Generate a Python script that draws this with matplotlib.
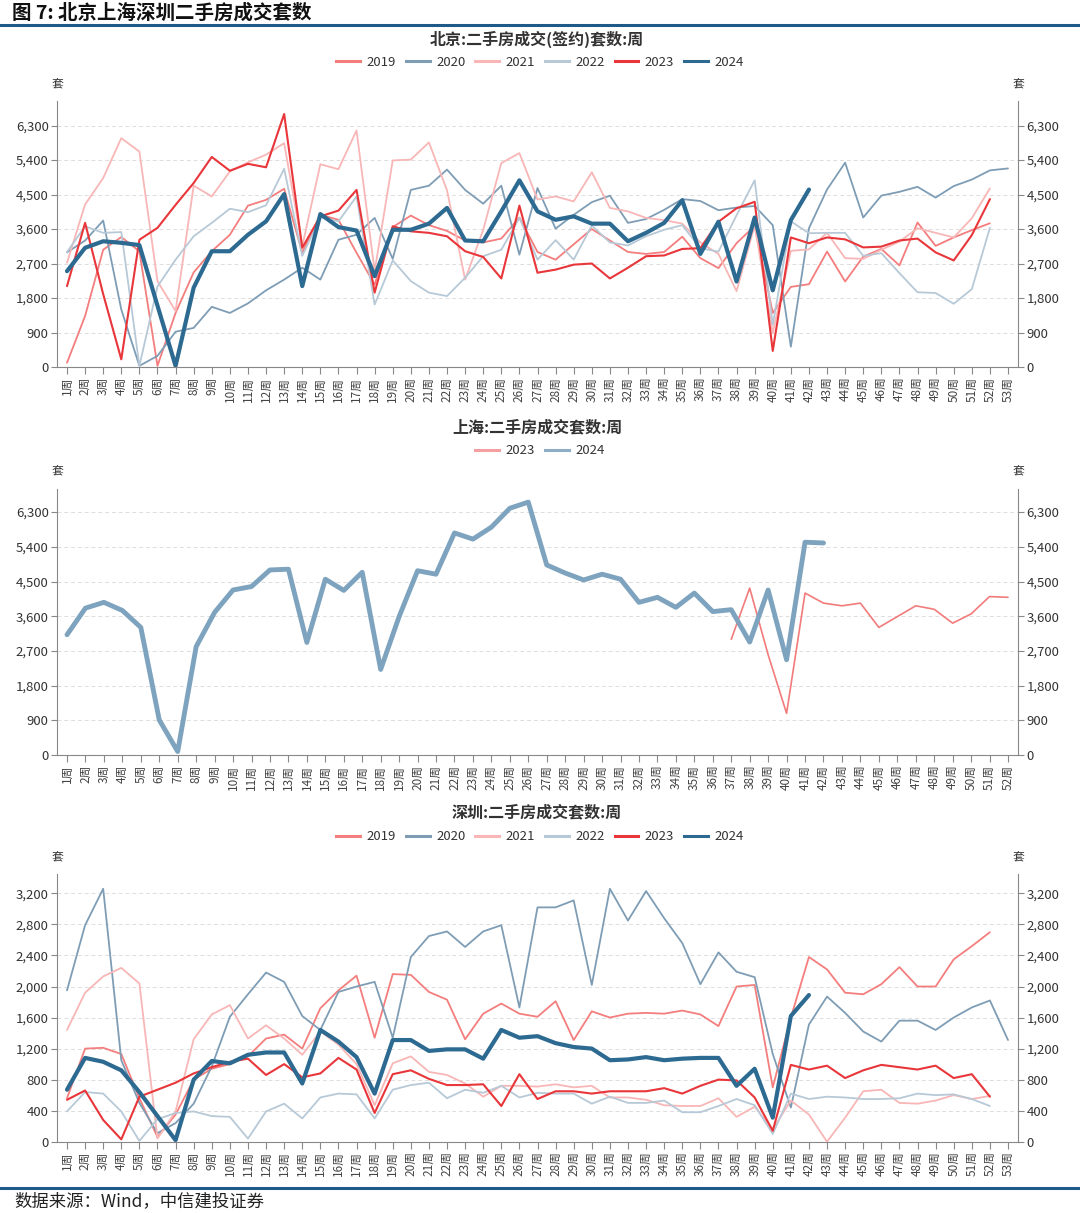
#!/usr/bin/env python3
# -*- coding: utf-8 -*-
"""
Weekly second-hand housing transactions in Beijing, Shanghai and Shenzhen.
"""

import matplotlib
matplotlib.use('Agg')
import matplotlib.pyplot as plt
from matplotlib.lines import Line2D
from matplotlib.ticker import FuncFormatter
import numpy as np

plt.rcParams['font.family'] = ['Noto Sans CJK SC', 'DejaVu Sans']

W, H = 1080, 1213

# ---- Beijing (signed contracts, units per week) ----
bj_2019 = [110, 1330, 3060, 3390, 3020, 30, 1410, 2470, 3020, 3450,
           4210, 4360, 4650, 2980, 3970, 3840, 2980, 2150, 3650, 3950,
           3700, 3550, 3300, 3250, 3350, 3900, 3000, 2800, 3200, 3600,
           3300, 3000, 2950, 3000, 3400, 2840, 2580, 3230, 3680, 1410,
           2090, 2160, 3010, 2230, 2880, 3080, 2650, 3770, 3160, 3380,
           3570, 3750]
bj_2020 = [2990, 3300, 3820, 1500, 30, 290, 920, 1020, 1570, 1410,
           1660, 2000, 2280, 2590, 2280, 3320, 3450, 3890, 2820, 4620,
           4730, 5150, 4620, 4260, 4730, 2930, 4670, 3610, 3970, 4300,
           4470, 3760, 3860, 4100, 4380, 4330, 4090, 4160, 4200, 3700,
           530, 3620, 4630, 5330, 3900, 4470, 4570, 4700, 4420, 4720,
           4890, 5130, 5180]
bj_2021 = [2720, 4240, 4930, 5970, 5620, 2240, 1460, 4730, 4450, 5100,
           5340, 5540, 5840, 3150, 5290, 5160, 6170, 2500, 5390, 5410,
           5860, 4610, 2280, 3580, 5320, 5580, 4370, 4450, 4320, 5080,
           4150, 4060, 3890, 3830, 3740, 3250, 2950, 1980, 3700, 890,
           3030, 3070, 3500, 2840, 2820, 3060, 3270, 3620, 3500, 3380,
           3880, 4660]
bj_2022 = [3000, 3670, 3500, 3520, 30, 2100, 2800, 3410, 3760, 4130,
           4040, 4220, 5170, 2900, 3900, 3800, 4450, 1630, 2780, 2240,
           1940, 1850, 2330, 2890, 3060, 3890, 2800, 3310, 2800, 3690,
           3250, 3170, 3410, 3580, 3700, 3100, 3010, 3960, 4870, 1100,
           3800, 3490, 3500, 3500, 2900, 2970, 2450, 1950, 1930, 1650,
           2030, 3630]
bj_2023 = [2110, 3760, 1900, 200, 3320, 3630, 4230, 4800, 5480, 5120,
           5300, 5210, 6600, 3110, 3930, 4080, 4620, 1940, 3670, 3540,
           3500, 3410, 3020, 2870, 2310, 4210, 2460, 2540, 2670, 2700,
           2310, 2590, 2890, 2910, 3080, 3100, 3790, 4140, 4310, 420,
           3380, 3230, 3380, 3330, 3120, 3140, 3300, 3350, 2990, 2780,
           3440, 4380]
bj_2024 = [2500, 3110, 3280, 3240, 3180, 1600, 30, 2070, 3020, 3020,
           3450, 3800, 4510, 2110, 3990, 3650, 3560, 2370, 3580, 3580,
           3740, 4150, 3300, 3280, 4060, 4870, 4060, 3840, 3930, 3740,
           3740, 3280, 3500, 3760, 4350, 2950, 3790, 2230, 3900, 2000,
           3830, 4630]

# ---- Shanghai ----
sh_2023 = [None] * 36 + [3000, 4330, 2600, 1080, 4200, 3940, 3870, 3940,
                         3310, 3590, 3870, 3780, 3420, 3660, 4110, 4090]
sh_2024 = [3120, 3810, 3960, 3750, 3310, 910, 90, 2810, 3700, 4280,
           4370, 4800, 4820, 2920, 4560, 4270, 4740, 2220, 3590, 4780,
           4690, 5760, 5600, 5910, 6400, 6560, 4930, 4720, 4540, 4690,
           4560, 3960, 4090, 3830, 4200, 3720, 3770, 2930, 4280, 2470,
           5520, 5500]

# ---- Shenzhen ----
sz_2019 = [560, 1200, 1210, 1130, 560, 60, 350, 800, 940, 1000,
           1100, 1330, 1380, 1200, 1720, 1950, 2140, 1340, 2160, 2150,
           1930, 1830, 1320, 1650, 1780, 1650, 1610, 1810, 1310, 1680,
           1600, 1650, 1660, 1650, 1690, 1640, 1490, 2000, 2020, 700,
           1600, 2380, 2220, 1920, 1900, 2030, 2250, 2000, 2000, 2350,
           2520, 2700]
sz_2020 = [1950, 2790, 3260, 1050, 500, 110, 240, 490, 970, 1610,
           1900, 2180, 2060, 1620, 1440, 1930, 2000, 2060, 1340, 2380,
           2650, 2710, 2510, 2710, 2790, 1730, 3020, 3020, 3110, 2020,
           3260, 2850, 3230, 2880, 2560, 2030, 2440, 2190, 2120, 1130,
           440, 1510, 1870, 1660, 1420, 1290, 1560, 1560, 1440, 1600,
           1730, 1820, 1310]
sz_2021 = [1440, 1920, 2130, 2240, 2040, 40, 390, 1320, 1640, 1760,
           1330, 1500, 1330, 1120, 1420, 1250, 1000, 470, 1010, 1100,
           900, 860, 750, 580, 720, 720, 710, 740, 700, 720,
           570, 570, 540, 470, 460, 460, 560, 320, 450, 160,
           530, 350, 0, 310, 650, 670, 500, 490, 530, 600,
           550, 590]
sz_2022 = [390, 640, 620, 390, 10, 290, 370, 390, 330, 320,
           40, 390, 490, 300, 570, 620, 610, 300, 670, 730,
           760, 560, 670, 630, 720, 570, 630, 620, 620, 490,
           580, 500, 500, 530, 380, 380, 460, 550, 470, 100,
           620, 550, 580, 570, 550, 550, 560, 620, 600, 610,
           550, 460]
sz_2023 = [540, 660, 280, 30, 580, 670, 760, 880, 960, 1030,
           1070, 860, 1000, 830, 880, 1080, 930, 370, 870, 920,
           810, 730, 730, 740, 460, 870, 550, 650, 650, 620,
           650, 650, 650, 690, 620, 720, 800, 790, 570, 140,
           990, 930, 980, 820, 920, 990, 960, 930, 980, 820,
           870, 580]
sz_2024 = [670, 1080, 1030, 920, 640, 330, 20, 800, 1040, 1010,
           1120, 1150, 1150, 750, 1440, 1290, 1090, 620, 1310, 1310,
           1170, 1190, 1190, 1070, 1440, 1340, 1360, 1270, 1220, 1200,
           1050, 1060, 1090, 1050, 1070, 1080, 1080, 720, 940, 310,
           1620, 1890]

years = ['2019', '2020', '2021', '2022', '2023', '2024']
colors = ['#F47D7D', '#7E9DB5', '#F8B6B6', '#B7C9D7', '#E8363A', '#2D6A91']
widths = [1.3, 1.3, 1.3, 1.3, 1.5, 3.0]


def px_x(x):
    return x / W


def px_y(y):
    return 1 - y / H


def draw_panel(fig, top, bottom, ymax, ystep, n_weeks, series):
    """
    One panel: lines, both y axes, week labels.
    """
    ax = fig.add_axes([px_x(57), px_y(bottom), (1018 - 57) / W,
                       (bottom - top) / H])
    for values, color, lw in series:
        y = np.array([np.nan if v is None else v for v in values],
                     dtype=float)
        ax.plot(np.arange(1, len(y) + 1), y, color=color, lw=lw,
                solid_joinstyle='round', solid_capstyle='round')
    margin = 10 / (941 / (n_weeks - 1))
    ax.set_xlim(1 - margin, n_weeks + margin)
    ax.set_ylim(0, ymax)
    weeks = np.arange(1, n_weeks + 1)
    ax.set_xticks(weeks)
    ax.set_xticklabels(['%d周' % w for w in weeks], rotation=90,
                       fontsize=8.5, color='#444444')
    ax.set_yticks(np.arange(0, ymax, ystep))
    ax.yaxis.set_major_formatter(
        FuncFormatter(lambda v, p: '{:,.0f}'.format(v)))
    ax.tick_params(axis='y', right=True, labelright=True, labelsize=9.5,
                   labelcolor='#333333', color='#888888', length=4,
                   width=0.8, pad=2)
    ax.tick_params(axis='x', color='#888888', length=5, width=0.8, pad=2)
    ax.grid(axis='y', color='#DDDDDD', lw=0.7, ls=(0, (4, 3)))
    ax.set_axisbelow(True)
    ax.spines['top'].set_visible(False)
    for side in ['left', 'right', 'bottom']:
        ax.spines[side].set_color('#888888')
        ax.spines[side].set_linewidth(0.8)
    return ax


def header(fig, title, title_y, legend_y, unit_y, labels, cols):
    fig.text(px_x(537), px_y(title_y), title, ha='center', va='center',
             fontsize=11.5, fontweight='bold', color='#333333')
    handles = [Line2D([], [], color=c, lw=2.2) for c in cols]
    fig.legend(handles, labels, loc='center',
               bbox_to_anchor=(0.5, px_y(legend_y)), ncol=len(labels),
               frameon=False, fontsize=9.5, handlelength=1.8,
               handletextpad=0.5, columnspacing=0.75,
               labelcolor='#333333')
    for x in [57, 1018]:
        fig.text(px_x(x), px_y(unit_y), '套', ha='center', va='center',
                 fontsize=8.5, color='#333333')


fig = plt.figure(figsize=(W / 100, H / 100), dpi=100)

fig.text(px_x(12), px_y(13), '图 7: 北京上海深圳二手房成交套数',
         ha='left', va='center', fontsize=14, fontweight='bold',
         color='#111111')
fig.add_artist(Line2D([0, 1], [px_y(25), px_y(25)], color='#1E5A87',
                      lw=2.2))
fig.add_artist(Line2D([0, 1], [px_y(1188), px_y(1188)], color='#1E5A87',
                      lw=2.2))
fig.text(px_x(14), px_y(1201), '数据来源：Wind，中信建投证券', ha='left',
         va='center', fontsize=12.5, color='#222222', style='italic')

# Beijing
bj = [bj_2019, bj_2020, bj_2021, bj_2022, bj_2023, bj_2024]
draw_panel(fig, 100.6, 367, 6950, 900, 53, zip(bj, colors, widths))
header(fig, '北京:二手房成交(签约)套数:周', 39, 62, 85, years, colors)

# Shanghai
draw_panel(fig, 489, 755, 6900, 900, 52,
           [(sh_2023, '#F27B7B', 1.2), (sh_2024, '#7EA3BF', 3.5)])
header(fig, '上海:二手房成交套数:周', 427, 451, 472, ['2023', '2024'],
       ['#F4A0A0', '#8DAEC6'])

# Shenzhen
sz = [sz_2019, sz_2020, sz_2021, sz_2022, sz_2023, sz_2024]
draw_panel(fig, 874, 1141.7, 3450, 400, 53, zip(sz, colors, widths))
header(fig, '深圳:二手房成交套数:周', 812, 837, 858, years, colors)

fig.savefig('out.png', dpi=100)
plt.close(fig)
